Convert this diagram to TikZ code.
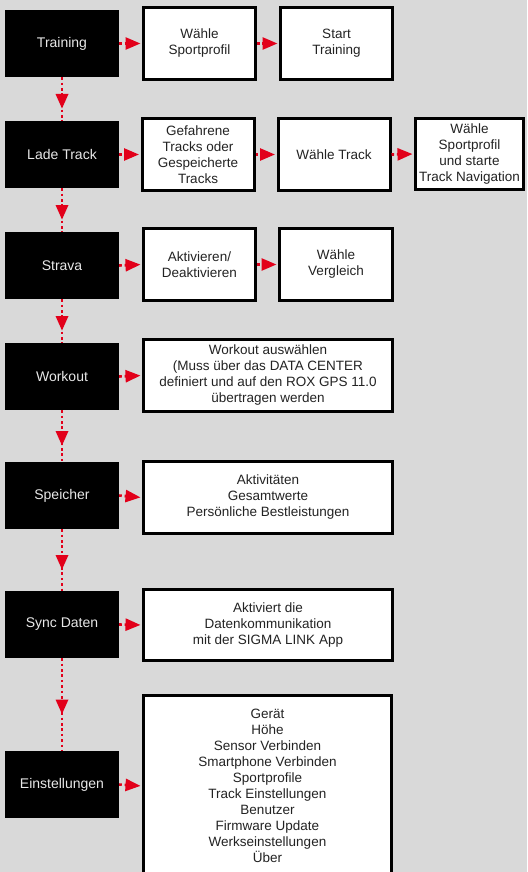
\documentclass[tikz,border=0pt]{standalone}
\usepackage{fontspec}
\setmainfont{Liberation Sans}
\usetikzlibrary{arrows.meta,decorations.markings}
\definecolor{sred}{RGB}{226,0,26}
\definecolor{bggray}{RGB}{217,217,217}
\definecolor{txt}{RGB}{35,35,35}
\definecolor{mtxt}{RGB}{232,232,232}
\begin{document}
\begin{tikzpicture}[x=1pt,y=-1pt,
  every node/.style={font=\fontsize{13.5}{16}\selectfont, align=center, inner sep=0pt},
  menu/.style={fill=black, text=mtxt, minimum width=114pt, minimum height=67pt, font=\fontsize{14}{16}\selectfont},
  wbox/.style={draw=black, line width=3pt, fill=white, text=txt},
  harrow/.style={draw=sred, line width=2.6pt, dash pattern=on 2.6pt off 2.8pt,
    -{Triangle[length=15pt,width=12pt,sep=0pt]}, shorten >=1.5pt},
  varrow/.style={draw=sred, line width=2.6pt, dash pattern=on 2.6pt off 2.8pt,
    postaction={decorate},
    decoration={markings, mark=at position 0.5 with {\fill[sred] (-5,-6.5) -- (9.5,0) -- (-5,6.5) -- cycle;}}}]
\useasboundingbox (0,0) rectangle (527,872);
\fill[bggray] (0,0) rectangle (527,872);
\begin{scope}
\clip (0,0) rectangle (527,872);
% menu column
\node[menu] (m1) at (62,43.5) {Training};
\node[menu] (m2) at (62,154.5) {Lade Track};
\node[menu] (m3) at (62,265.5) {Strava};
\node[menu] (m4) at (62,376.5) {Workout};
\node[menu] (m5) at (62,495.5) {Speicher};
\node[menu] (m6) at (62,624.5) {Sync Daten};
\node[menu] (m7) at (62,784.5) {Einstellungen};
% white boxes
\node[wbox, minimum width=112pt, minimum height=72pt] (w11) at (199.5,43.5) {Wähle\\Sportprofil};
\node[wbox, minimum width=112pt, minimum height=72pt] (w12) at (336.5,43.5) {Start\\Training};
\node[wbox, minimum width=112pt, minimum height=72pt] (w21) at (198,154.5) {Gefahrene\\Tracks oder\\Gespeicherte\\Tracks};
\node[wbox, minimum width=112pt, minimum height=72pt] (w22) at (334,154.5) {Wähle Track};
\node[wbox, minimum width=108pt, minimum height=71pt] (w23) at (469.5,154) {Wähle\\Sportprofil\\und starte\\Track Navigation};
\node[wbox, minimum width=112pt, minimum height=72pt] (w31) at (199.5,264.5) {Aktivieren/\\Deaktivieren};
\node[wbox, minimum width=113pt, minimum height=72pt] (w32) at (336,264.5) {Wähle\\Vergleich};
\node[wbox, minimum width=249pt, minimum height=72pt] (w4) at (268,375.5) {Workout auswählen\\(Muss über das DATA CENTER\\definiert und auf den ROX GPS 11.0\\übertragen werden};
\node[wbox, minimum width=249pt, minimum height=72pt] (w5) at (268,497.5) {Aktivitäten\\Gesamtwerte\\Persönliche Bestleistungen};
\node[wbox, minimum width=249pt, minimum height=71pt] (w6) at (268,625) {Aktiviert die\\Datenkommunikation\\mit der SIGMA LINK App};
\node[wbox, minimum width=248pt, minimum height=181pt] (w7) at (267.5,786) {Gerät\\Höhe\\Sensor Verbinden\\Smartphone Verbinden\\Sportprofile\\Track Einstellungen\\Benutzer\\Firmware Update\\Werkseinstellungen\\Über};
% horizontal arrows
\draw[harrow] (m1.east) -- (w11.west);
\draw[harrow] (w11.east) -- (w12.west);
\draw[harrow] (m2.east) -- (w21.west);
\draw[harrow] (w21.east) -- (w22.west);
\draw[harrow] (w22.east) -- (w23.west);
\draw[harrow] (m3.east) -- (w31.west);
\draw[harrow] (w31.east) -- (w32.west);
\draw[harrow] (m4.east) -- (w4.west);
\draw[harrow] (m5.east) -- (w5.west);
\draw[harrow] (m6.east) -- (w6.west);
\draw[harrow] (m7.east) -- (w7.west);
% vertical arrows
\draw[varrow] (m1.south) -- (m2.north);
\draw[varrow] (m2.south) -- (m3.north);
\draw[varrow] (m3.south) -- (m4.north);
\draw[varrow] (m4.south) -- (m5.north);
\draw[varrow] (m5.south) -- (m6.north);
\draw[varrow] (m6.south) -- (m7.north);
\end{scope}
\end{tikzpicture}
\end{document}
